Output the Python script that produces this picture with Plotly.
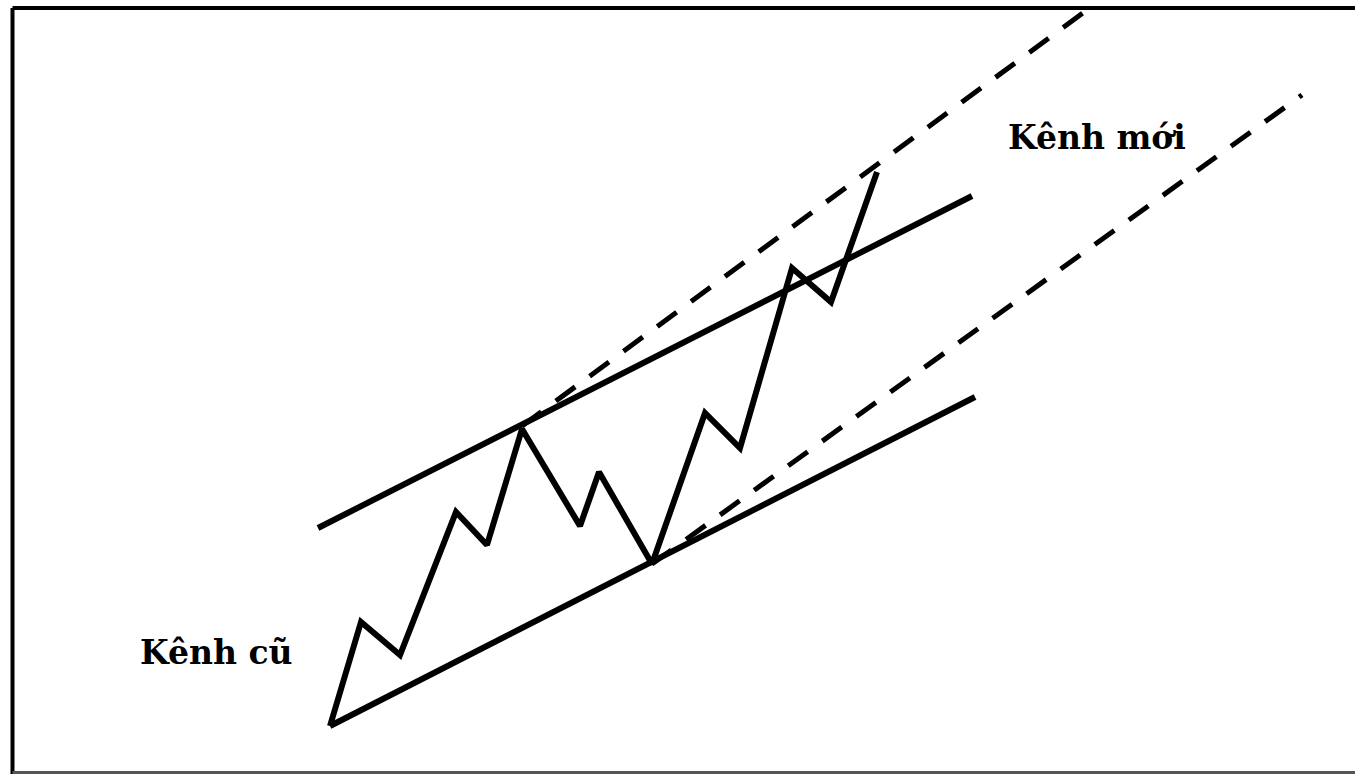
import plotly.graph_objects as go

# Diagram coordinates (pixel-like space, y grows downward)
price_x = [330, 361, 400, 456, 487, 522, 580, 599, 652, 705, 740, 792, 831, 877]
price_y = [726, 622, 655, 512, 545, 429, 526, 472, 564, 413, 448, 268, 302, 172]

old_upper_x = [318, 972]
old_upper_y = [528, 196]
old_lower_x = [330, 975]
old_lower_y = [726, 397]

new_upper_x = [522, 1087]
new_upper_y = [426, 10]
new_lower_x = [652, 1302]
new_lower_y = [564, 95]

label_new = "<b>Kênh mới</b>"
label_old = "<b>Kênh cũ</b>"
label_new_pos = (1006, 137)
label_old_pos = (138, 652)

W, H = 1355, 774

fig = go.Figure()

dash_style = dict(color="black", width=5, dash="24px,18px")
fig.add_trace(go.Scatter(x=new_upper_x, y=new_upper_y, mode="lines", line=dash_style, hoverinfo="skip"))
fig.add_trace(go.Scatter(x=new_lower_x, y=new_lower_y, mode="lines", line=dash_style, hoverinfo="skip"))

solid = dict(color="black", width=6)
fig.add_trace(go.Scatter(x=old_upper_x, y=old_upper_y, mode="lines", line=solid, hoverinfo="skip"))
fig.add_trace(go.Scatter(x=old_lower_x, y=old_lower_y, mode="lines", line=solid, hoverinfo="skip"))
fig.add_trace(go.Scatter(x=price_x, y=price_y, mode="lines", line=solid, hoverinfo="skip"))

font = dict(family="DejaVu Serif", size=33, color="black")
fig.add_annotation(x=label_new_pos[0], y=label_new_pos[1], text=label_new, showarrow=False,
                   xanchor="left", yanchor="middle", font=font)
fig.add_annotation(x=label_old_pos[0], y=label_old_pos[1], text=label_old, showarrow=False,
                   xanchor="left", yanchor="middle", font=font)

# frame (top, left, bottom; no right edge)
frame = dict(color="black", width=4)
fig.add_shape(type="line", xref="x", yref="y", x0=12.5, y0=8, x1=W + 20, y1=8, line=frame)
fig.add_shape(type="line", xref="x", yref="y", x0=12.5, y0=8, x1=12.5, y1=H + 20, line=frame)
fig.add_shape(type="line", xref="x", yref="y", x0=12.5, y0=772.5, x1=W + 20, y1=772.5,
              line=dict(color="#555555", width=3))

fig.update_layout(
    width=W, height=H,
    margin=dict(l=0, r=0, t=0, b=0),
    paper_bgcolor="white", plot_bgcolor="white",
    showlegend=False,
    xaxis=dict(range=[0, W], visible=False, fixedrange=True),
    yaxis=dict(range=[H, 0], visible=False, fixedrange=True),
)

fig.write_html("out.html", config={"displayModeBar": False},
               post_script="document.body.style.margin='0';document.body.style.overflow='hidden';")
